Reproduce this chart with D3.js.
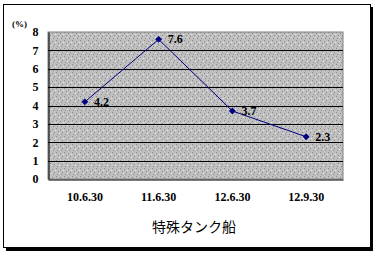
<!DOCTYPE html>
<html><head><meta charset="utf-8">
<script src="https://cdn.jsdelivr.net/npm/d3@7"></script>
<style>body{margin:0;background:#fff}svg{display:block}</style>
</head><body>
<svg id="c" width="377" height="255"></svg>
<script>
const categories = ["10.6.30", "11.6.30", "12.6.30", "12.9.30"];
const values = [4.2, 7.6, 3.7, 2.3];
const yTicks = [0, 1, 2, 3, 4, 5, 6, 7, 8];
const unitLabel = "(%)";
const title = "特殊タンク船";

const svg = d3.select("#c");
const W = 377, H = 255;
const plot = {left: 48, top: 32, right: 343, bottom: 179};

// frame with shadow
svg.append("rect").attr("x", 6).attr("y", 7).attr("width", 367).attr("height", 244).attr("fill", "#000");
svg.append("rect").attr("x", 3.5).attr("y", 4.5).attr("width", 367).attr("height", 243)
  .attr("fill", "#fff").attr("stroke", "#000").attr("stroke-width", 1);

// dotted pattern
const defs = svg.append("defs");
const pat = defs.append("pattern").attr("id", "dots").attr("patternUnits", "userSpaceOnUse")
  .attr("width", 8).attr("height", 8);
pat.append("rect").attr("width", 8).attr("height", 8).attr("fill", "#c0c0c0");
[[0,0],[4,1],[2,3],[6,4],[1,6],[5,6]].forEach(([dx,dy]) =>
  pat.append("rect").attr("x", dx).attr("y", dy).attr("width", 1).attr("height", 1).attr("fill", "#8a8a8a"));
[[3,5],[7,2]].forEach(([dx,dy]) =>
  pat.append("rect").attr("x", dx).attr("y", dy).attr("width", 1).attr("height", 1).attr("fill", "#e8e8e8"));

const x = d3.scaleBand().domain(categories).range([plot.left, plot.right]);
const y = d3.scaleLinear().domain([0, 8]).range([plot.bottom, plot.top]);

svg.append("rect").attr("x", plot.left).attr("y", plot.top)
  .attr("width", plot.right - plot.left).attr("height", plot.bottom - plot.top)
  .attr("fill", "url(#dots)").attr("stroke", "#808080").attr("stroke-width", 1);

// gridlines
svg.append("g").selectAll("line").data(yTicks.filter(d => d > 0 && d < 8)).join("line")
  .attr("x1", plot.left).attr("x2", plot.right)
  .attr("y1", d => Math.round(y(d)) + 0.5).attr("y2", d => Math.round(y(d)) + 0.5)
  .attr("stroke", "#000").attr("stroke-width", 1);

// axes
const yAxis = svg.append("g").attr("transform", `translate(${plot.left + 0.5},0)`)
  .call(d3.axisLeft(y).tickValues(yTicks).tickSize(0).tickPadding(10).tickFormat(d3.format("d")));
yAxis.select(".domain").attr("stroke", "#000");
yAxis.selectAll("text").attr("font-family", "Liberation Serif").attr("font-weight", "bold")
  .attr("font-size", 12).attr("fill", "#000");

const xAxis = svg.append("g").attr("transform", `translate(0,${plot.bottom + 0.5})`)
  .call(d3.axisBottom(x).tickSize(0).tickPadding(13));
xAxis.select(".domain").attr("stroke", "#000");
xAxis.selectAll("text").attr("font-family", "Liberation Serif").attr("font-weight", "bold")
  .attr("font-size", 12).attr("fill", "#000");

// unit label
svg.append("text").attr("x", 12).attr("y", 27).text(unitLabel)
  .attr("font-family", "Liberation Serif").attr("font-weight", "bold").attr("font-size", 9);

// line
const cx = d => x(d) + x.bandwidth() / 2;
const data = categories.map((c, i) => ({c, v: values[i]}));
svg.append("path").datum(data)
  .attr("d", d3.line().x(d => cx(d.c)).y(d => y(d.v)))
  .attr("fill", "none").attr("stroke", "#000080").attr("stroke-width", 1);

svg.append("g").selectAll("path").data(data).join("path")
  .attr("transform", d => `translate(${cx(d.c)},${y(d.v)})`)
  .attr("d", d3.symbol(d3.symbolDiamond2, 30))
  .attr("fill", "#000080");

svg.append("g").selectAll("text").data(data).join("text")
  .attr("x", d => cx(d.c) + 9).attr("y", d => y(d.v) + 4)
  .text(d => d.v.toFixed(1))
  .attr("font-family", "Liberation Serif").attr("font-weight", "bold").attr("font-size", 12);

// title
svg.append("text").attr("x", 194).attr("y", 232).attr("text-anchor", "middle").text(title)
  .attr("font-family", "Noto Sans CJK JP").attr("font-size", 14);
</script>
</body></html>
